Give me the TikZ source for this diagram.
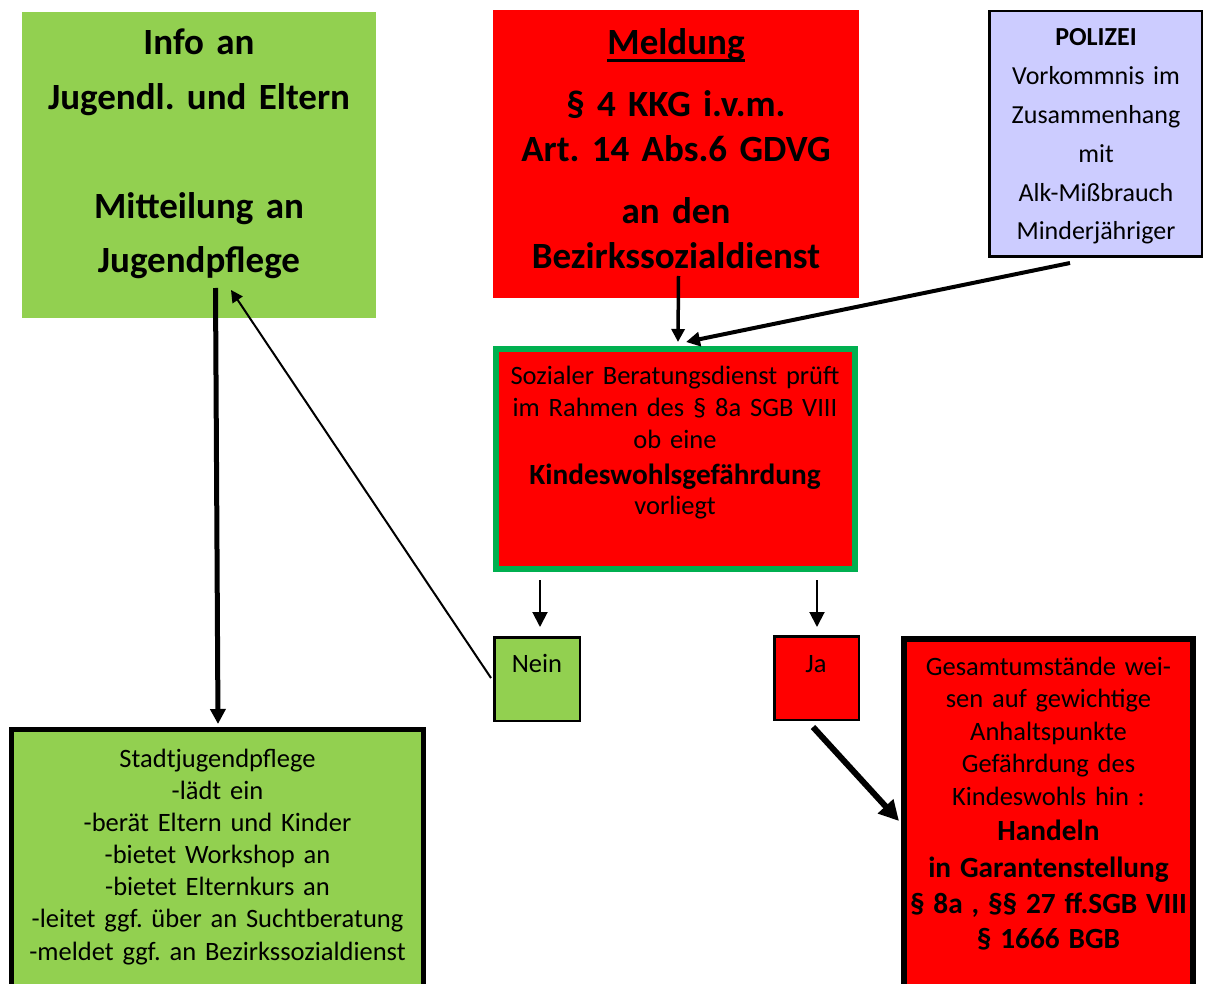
\documentclass[tikz,border=0pt]{standalone}
\usepackage{fontspec}
\setmainfont{Carlito}
\usetikzlibrary{arrows.meta}
\definecolor{lgreen}{HTML}{92D050}
\definecolor{dgreen}{HTML}{00B050}
\definecolor{lav}{HTML}{CCCCFF}
\definecolor{rd}{HTML}{FF0000}
\frenchspacing
\newcommand\tstr{\rule{0pt}{40pt}}
\newcommand\ulword[1]{\setbox0\hbox{#1}\rlap{\rule[-7pt]{\wd0}{2.7pt}}\box0}
\begin{document}
\begin{tikzpicture}[x=1pt,y=-1pt,
  box/.style={rectangle, inner sep=0pt, outer sep=0pt, anchor=north west},
  txt/.style={inner sep=0pt, outer sep=0pt, anchor=north, align=center},
  normal/.style={font=\fontsize{26.5}{32.4}\selectfont},
  arr/.style={-{Triangle[length=#1,width=#1]}},
  arr/.default=13pt]
\useasboundingbox (0,0) rectangle (1211,984);
\clip (0,0) rectangle (1211,984);

% boxes
\node[box, fill=lgreen, minimum width=354pt, minimum height=306pt] (info) at (22,12) {};
\node[box, fill=rd, minimum width=366pt, minimum height=288pt] (meld) at (493,10) {};
\node[box, fill=lav, draw=black, line width=2.5pt, minimum width=212.5pt, minimum height=245.5pt] (pol) at (989.25,11.25) {};
\node[box, fill=rd, draw=dgreen, line width=6pt, minimum width=359pt, minimum height=220pt] (soz) at (496,349) {};
\node[box, fill=lgreen, draw=black, line width=2.5pt, minimum width=85.5pt, minimum height=83.5pt] (nein) at (494.25,637.25) {};
\node[box, fill=rd, draw=black, line width=2.5pt, minimum width=84.5pt, minimum height=83.5pt] (ja) at (774.25,636.25) {};
\node[box, fill=lgreen, draw=black, line width=5pt, minimum width=412pt, minimum height=280pt] (stadt) at (11.5,729.5) {};
\node[box, fill=rd, draw=black, line width=6pt, minimum width=289pt, minimum height=370pt] (act) at (904,639) {};

% texts
\node[txt, text width=354pt, font=\bfseries\fontsize{37}{54.5}\selectfont] (infot) at (199,15)
  {\tstr Info an\\Jugendl. und Eltern\\[54.5pt]Mitteilung an\\Jugendpflege};
\node[txt, text width=366pt, font=\bfseries\fontsize{37}{45}\selectfont] (meldt) at (676,15)
  {\tstr\ulword{Meldung}\\[17pt]§ 4 KKG i.v.m.\\Art. 14 Abs.6 GDVG\\[17pt]an den\\Bezirkssozialdienst};
\node[txt, text width=212pt, font=\fontsize{26}{38.8}\selectfont] (polt) at (1096,6)
  {\tstr\textbf{POLIZEI}\\Vorkommnis im\\Zusammenhang\\mit\\Alk-Mißbrauch\\Minderjähriger};
\node[txt, text width=359pt, font=\fontsize{26.5}{32}\selectfont] (sozt) at (675,345)
  {\tstr Sozialer Beratungsdienst prüft\\im Rahmen des § 8a SGB VIII\\ob eine\\[4pt]{\bfseries\fontsize{29.3}{32}\selectfont Kindeswohlsgefährdung}\\[-2pt]vorliegt};
\node[txt, text width=84pt, normal] (neint) at (537,632) {\tstr Nein};
\node[txt, text width=84pt, normal] (jat) at (816,632) {\tstr Ja};
\node[txt, text width=410pt, font=\fontsize{26.5}{32.17}\selectfont] (stadtt) at (217.5,727)
  {\tstr Stadtjugendpflege\\-lädt ein\\-berät Eltern und Kinder\\-bietet Workshop an\\-bietet Elternkurs an\\-leitet ggf. über an Suchtberatung\\-meldet ggf. an Bezirkssozialdienst};
\node[txt, text width=289pt, font=\fontsize{26.5}{32.5}\selectfont] (actt) at (1048.5,635)
  {\tstr Gesamtumstände wei-\\sen auf gewichtige\\Anhaltspunkte\\Gefährdung des\\Kindeswohls hin :\\[2.5pt]\bfseries\fontsize{29.3}{32.5}\selectfont Handeln\\[4.5pt]in Garantenstellung\\[3.5pt]§ 8a , §§ 27 ff.SGB VIII\\[2.5pt]§ 1666 BGB};

% connectors
\draw[arr=13pt, line width=3.5pt] ([xshift=2.5pt,yshift=22pt]meld.south) -- ([xshift=2.5pt,yshift=7pt]soz.north);
\draw[arr=14pt, line width=4pt] ([xshift=-25.5pt,yshift=-6.25pt]pol.south) -- ([xshift=10.5pt,yshift=7pt]soz.north);
\draw[arr=15pt, line width=5pt] ([xshift=16.5pt,yshift=30pt]info.south) -- ([xshift=0.5pt,yshift=5.5pt]stadt.north);
\draw[arr=12pt, line width=2pt] ([xshift=-3.25pt,yshift=1pt]nein.west) -- ([xshift=32pt,yshift=28pt]info.south);
\draw[arr=15pt, line width=2pt] ([xshift=-135.5pt,yshift=-11pt]soz.south) -- ([xshift=3pt,yshift=10.25pt]nein.north);
\draw[arr=15pt, line width=2pt] ([xshift=141.5pt,yshift=-11pt]soz.south) -- ([xshift=0.5pt,yshift=9.25pt]ja.north);
\draw[arr=20pt, line width=6pt] ([xshift=-3.5pt,yshift=-7.25pt]ja.south) -- ([xshift=-5pt,yshift=3pt]act.west);
\end{tikzpicture}
\end{document}
